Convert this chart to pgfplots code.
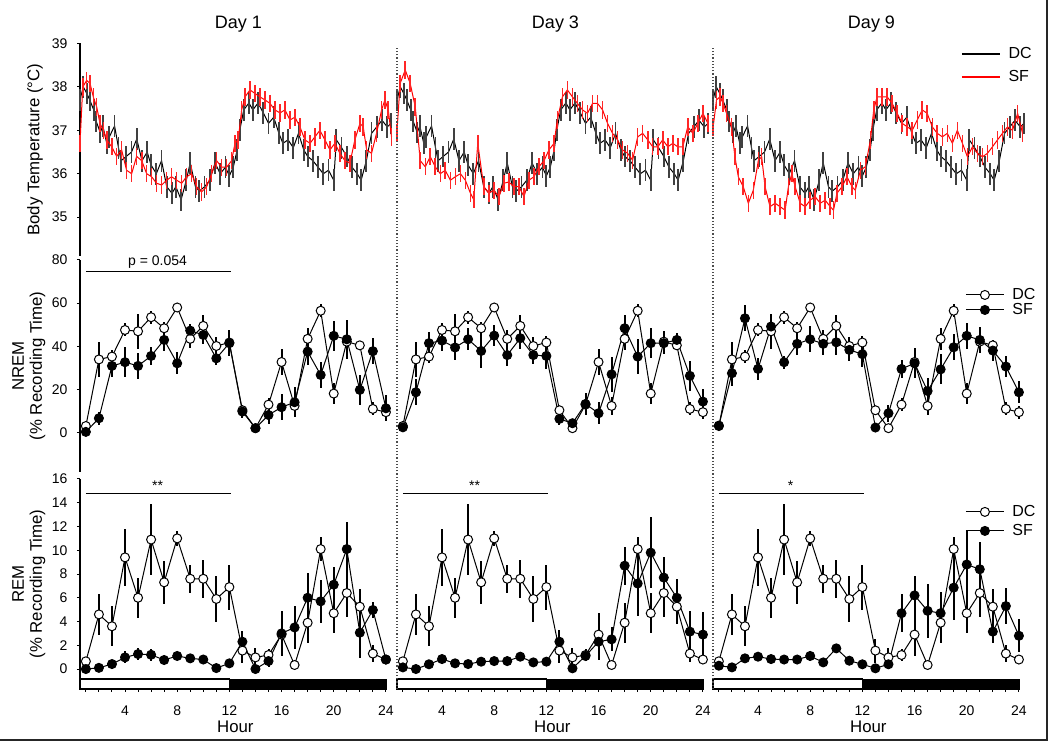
\documentclass[border=0pt]{standalone}
\usepackage{fontspec}
\setmainfont{Liberation Sans}
\usepackage{pgfplots}
\usepackage{pgfplotstable}
\pgfplotsset{compat=1.18}

\pgfplotstableread{
h t
0.55 37.70
0.80 38.00
1.07 37.85
1.30 37.70
1.60 37.47
1.80 37.20
2.10 36.95
2.30 37.10
2.60 36.70
2.80 36.85
3.20 37.10
3.50 36.60
3.70 36.30
4.10 36.40
4.50 36.50
4.90 36.80
5.30 36.30
5.70 36.50
6.00 36.20
6.40 36.00
6.80 36.30
7.20 35.70
7.60 35.55
7.90 35.70
8.30 35.40
8.70 35.85
9.00 36.25
9.40 35.70
9.70 35.60
10.10 35.70
10.50 35.85
10.90 36.25
11.30 36.00
11.70 36.15
12.00 35.95
12.30 36.15
12.60 36.55
12.80 37.00
13.10 37.47
13.50 37.63
13.80 37.47
14.20 37.63
14.60 37.40
15.00 37.16
15.40 37.30
15.80 36.93
16.10 36.70
16.50 36.78
16.90 36.60
17.30 36.93
17.70 36.55
18.00 36.40
18.40 36.30
18.80 36.15
19.20 36.00
19.60 36.08
20.00 35.85
20.20 36.78
20.60 36.60
21.00 36.40
21.40 36.15
21.80 36.00
22.10 35.85
22.50 36.30
22.90 36.93
23.30 37.08
23.70 37.23
24.10 37.08
24.40 37.16
}\tempdc

\pgfplotstableread{
h t
0.55 36.70
0.76 38.00
1.06 38.15
1.32 38.08
1.57 37.77
1.83 37.54
2.08 37.16
2.34 37.00
2.60 36.78
2.98 36.62
3.36 36.40
3.74 36.55
4.12 36.08
4.51 36.00
4.89 36.40
5.28 36.30
5.66 36.00
6.04 35.93
6.42 35.78
6.81 35.74
7.19 35.85
7.57 35.93
7.96 35.85
8.34 35.78
8.72 35.93
9.11 36.00
9.49 35.70
9.87 35.58
10.26 35.70
10.64 36.00
11.02 36.30
11.41 36.15
11.79 36.15
12.17 36.30
12.43 36.70
12.68 36.78
12.94 37.47
13.20 37.77
13.58 37.93
13.96 37.85
14.34 37.77
14.73 37.70
15.11 37.62
15.49 37.47
15.88 37.40
16.26 37.47
16.64 37.24
17.03 37.30
17.41 37.08
17.79 36.78
18.18 36.70
18.56 36.85
18.94 37.00
19.32 36.78
19.71 36.55
20.09 36.70
20.47 36.47
20.86 36.30
21.24 36.24
21.62 36.78
22.01 37.16
22.26 37.08
22.52 36.55
22.90 36.47
23.28 36.93
23.67 37.47
23.92 37.70
24.18 37.47
24.43 36.85
}\tempsfa

\pgfplotstableread{
h t
0.54 36.94
0.79 38.08
1.18 38.39
1.56 38.08
1.95 37.54
2.33 36.30
2.72 36.16
3.10 36.39
3.48 36.16
3.87 36.00
4.25 36.08
4.64 35.85
5.02 35.93
5.41 36.00
5.79 35.85
6.18 35.55
6.43 35.40
6.74 36.70
7.20 35.70
7.59 35.55
7.97 35.62
8.36 35.47
8.74 35.78
9.13 35.81
9.51 35.70
9.90 35.70
10.28 35.47
10.66 35.85
11.05 35.93
11.43 36.16
11.82 36.30
12.20 36.55
12.59 36.70
12.84 37.24
13.23 37.77
13.61 37.93
14.00 37.77
14.38 37.62
14.77 37.47
15.15 37.39
15.54 37.62
15.92 37.62
16.31 37.47
16.69 37.16
17.07 36.93
17.46 36.78
17.84 36.55
18.23 36.47
18.61 36.31
19.00 36.85
19.38 36.93
19.77 36.78
20.15 36.62
20.54 36.62
20.92 36.78
21.31 36.62
21.69 36.70
22.07 36.62
22.46 36.62
22.84 37.08
23.23 36.93
23.61 37.16
24.00 37.39
24.38 37.16
}\tempsfb

\pgfplotstableread{
h t
0.56 37.08
0.82 37.70
1.08 37.77
1.33 37.62
1.59 37.39
1.97 37.08
2.23 36.39
2.49 35.93
2.87 35.70
3.26 35.32
3.64 35.62
4.03 36.31
4.28 36.39
4.54 35.70
4.92 35.24
5.31 35.32
5.69 35.24
6.08 35.16
6.33 35.70
6.59 36.00
6.85 35.70
7.23 35.32
7.62 35.24
8.00 35.39
8.38 35.47
8.77 35.32
9.15 35.39
9.54 35.24
9.79 35.16
10.05 35.55
10.44 35.70
10.82 35.93
11.21 35.70
11.46 35.62
11.85 36.08
12.23 36.16
12.62 36.78
12.87 37.47
13.13 37.77
13.51 37.77
13.90 37.77
14.28 37.62
14.67 37.39
15.05 37.16
15.44 37.08
15.82 37.00
16.21 37.24
16.59 37.47
16.97 37.39
17.36 37.08
17.74 36.93
18.13 36.85
18.51 36.93
18.90 36.70
19.28 37.00
19.67 36.70
20.05 36.39
20.44 36.62
20.82 36.47
21.21 36.39
21.59 36.47
21.97 36.62
22.36 36.78
22.74 36.93
23.13 37.08
23.51 37.00
23.90 37.39
24.28 36.93
}\tempsfc

\pgfplotstableread{
h dc dce sfa sfae sfb sfbe sfc sfce
1 3.2 1 0.5 1 2.6 1 3.4 1
2 34 8 6.8 3 18.8 6 27.6 6
3 35.3 3 31 5 41.5 5 53 6
4 47.6 3 32.7 7 42.7 5 29.6 5
5 47 8 31 6 39.5 6 49.2 6
6 53.5 3 35.6 4 43.3 5 32.7 3
7 48.4 3 43 5 37.9 8 41.2 5
8 58 2 32.2 5 45 5 43.3 6
9 43.5 4 47.3 3 36 5 41.2 5
10 49.5 5 45.3 4 43.8 5 41.9 6
11 40.2 4 34.5 3 36 4 38.4 5
12 41.8 3 41.5 6 35.6 6 36.4 6
13 10.5 2 9.9 3 6.5 3 2.5 2
14 2.2 1 2.2 1 4.5 2 9.1 4
15 13.1 3 8.3 4 13.4 5 29.6 4
16 32.8 6 11.9 6 9.1 5 32.2 7
17 12.5 4 14.2 7 27.1 8 19.4 6
18 43.5 5 37.6 6 48.4 6 29.4 7
19 56.5 3 26.8 6 35.3 8 39.6 6
20 18.2 5 44.9 7 41.5 7 44.9 6
21 42.2 5 43.3 9 41.5 5 43 6
22 40.5 2 19.9 7 43 3 38.1 5
23 11.1 3 37.8 6 26.4 7 30.7 5
24 9.6 3 11.4 6 14.5 6 18.8 5
}\nrem

\pgfplotstableread{
h dc dce sfa sfae sfb sfbe sfc sfce
1 0.65 0.3 0.0 0.2 0.14 0.2 0.28 0.2
2 4.6 1.7 0.1 0.2 0.0 0.2 0.14 0.2
3 3.6 1.7 0.42 0.3 0.4 0.3 0.9 0.4
4 9.4 2.4 0.98 0.5 0.84 0.3 1.04 0.4
5 6.0 1.7 1.26 0.5 0.48 0.3 0.84 0.3
6 10.9 3.0 1.2 0.5 0.42 0.3 0.8 0.3
7 7.3 1.8 0.76 0.3 0.62 0.3 0.8 0.3
8 11.0 0.6 1.1 0.3 0.67 0.3 1.1 0.4
9 7.6 1.2 0.9 0.3 0.67 0.3 0.56 0.3
10 7.6 1.6 0.8 0.3 1.04 0.3 1.74 0.4
11 5.9 1.9 0.08 0.2 0.56 0.3 0.7 0.3
12 6.9 1.9 0.48 0.3 0.62 0.3 0.4 0.3
13 1.55 1.0 2.3 0.9 2.3 1.0 0.06 0.2
14 0.98 0.8 0.0 0.2 0.06 0.3 0.4 0.3
15 1.18 0.5 0.67 0.5 1.1 0.4 4.7 1.6
16 2.9 1.8 3.0 1.9 2.3 1.5 6.2 1.6
17 0.34 0.2 3.5 1.8 2.5 1.0 4.9 2.3
18 3.9 1.7 6.0 2.1 8.7 1.6 4.7 1.8
19 10.1 1.0 5.7 1.8 7.2 2.7 6.85 2.7
20 4.7 1.7 7.1 1.5 9.8 3.0 8.8 2.9
21 6.4 2.0 10.1 2.3 7.7 1.7 8.4 2.3
22 5.25 1.5 3.06 2.1 6.0 1.6 3.15 1.0
23 1.3 0.7 4.97 0.7 3.15 1.7 5.3 1.5
24 0.8 0.3 0.8 0.3 2.9 1.9 2.8 1.4
}\rem

\pgfplotsset{
 base/.style={scale only axis, width=158.5pt, xmin=0.55, xmax=24.85, anchor=south west, clip=false,
   tick align=outside, major tick length=1.5pt, minor tick length=1.5pt,
   tick style={black, line width=0.5pt},
   ticklabel style={font=\fontsize{7}{8}\selectfont},
   /pgf/number format/assume math mode=true,
   axis line style={line width=0.65pt},
   label style={font=\fontsize{8.4}{9}\selectfont},
   title style={at={(0.5,1)}, anchor=base, yshift=1.5pt, font=\fontsize{9}{10}\selectfont},
   yticklabel style={xshift=-1.2pt}},
 ycol1/.style={axis y line*=left},
 ycolk/.style={axis y line=none},
 trow/.style={height=106.35pt, ymin=34.1, ymax=39, ytick={35,36,37,38,39}, axis x line=none},
 nrow/.style={height=106pt, ymin=-18, ymax=80, ytick={0,20,40,60,80}, axis x line=none},
 rrow/.style={height=105pt, ymin=-1.68, ymax=16, ytick={0,2,...,16}, axis x line*=bottom,
   x axis line style={draw=none}, xtick={4,8,...,24}, minor xtick={1,...,24},
   xticklabel style={yshift=-3.2pt}, xlabel={Hour},
   xlabel style={at={(axis description cs:0.49,-0.181)}, anchor=center}},
 tdc/.style={black, line width=0.5pt, no marks, error bars/.cd, y dir=both, y fixed=0.25,
   error mark=none, error bar style={line width=0.9pt, black!75}},
 tsf/.style={red, line width=0.5pt, no marks, error bars/.cd, y dir=both, y fixed=0.2,
   error mark=none, error bar style={line width=0.8pt, red!85}},
 mdc/.style={black, line width=0.5pt, mark=*, mark size=2.25pt,
   mark options={fill=white, solid, line width=0.5pt}, error bars/.cd, y dir=both, y explicit,
   error mark=none, error bar style={line width=1pt}},
 msf/.style={black, line width=0.5pt, mark=*, mark size=2.25pt,
   mark options={fill=black, solid, line width=0.5pt}, error bars/.cd, y dir=both, y explicit,
   error mark=none, error bar style={line width=1pt}},
}

\begin{document}
\begin{tikzpicture}
\useasboundingbox (0,0) rectangle (525pt,371pt);

% ---------- Temperature row ----------
\begin{axis}[base, trow, ycol1, at={(40pt,242.9pt)}, title={Day 1},
  ylabel={Body Temperature (°C)}, ylabel style={at={(axis description cs:-0.142,0.5)}, anchor=center}]
\addplot[tdc] table[x=h,y=t] {\tempdc};
\addplot[tsf] table[x=h,y=t] {\tempsfa};
\end{axis}
\begin{axis}[base, trow, ycolk, at={(198.5pt,242.9pt)}, title={Day 3}]
\addplot[tdc] table[x=h,y=t] {\tempdc};
\addplot[tsf] table[x=h,y=t] {\tempsfb};
\end{axis}
\begin{axis}[base, trow, ycolk, at={(356.5pt,242.9pt)}, title={Day 9},
  legend style={at={(0.782,0.995)}, anchor=north west, draw=none, fill=none, inner sep=0pt,
    font=\fontsize{8}{9}\selectfont, row sep=2.5pt,
    nodes={inner sep=1pt, text height=6pt, text depth=1pt},
    /tikz/every odd column/.append style={column sep=3pt}},
  legend cell align=left,
  legend image code/.code={\draw[#1, line width=0.6pt] (0pt,0pt) -- (19pt,0pt);}]
\addplot[tdc] table[x=h,y=t] {\tempdc};
\addplot[tsf] table[x=h,y=t] {\tempsfc};
\legend{DC,SF}
\end{axis}

% ---------- NREM row ----------
\begin{axis}[base, nrow, ycol1, at={(40pt,135.05pt)},
  ylabel={NREM\\(\% Recording Time)}, ylabel style={at={(axis description cs:-0.161,0.5)}, anchor=center, align=center}]
\addplot[mdc] table[x=h,y=dc,y error=dce] {\nrem};
\addplot[msf] table[x=h,y=sfa,y error=sfae] {\nrem};
\draw[line width=0.5pt] (axis cs:1,74.5) -- (axis cs:12.1,74.5);
\node[font=\fontsize{7}{8}\selectfont, anchor=base] at (axis cs:6.5,77.2) {p = 0.054};
\end{axis}
\begin{axis}[base, nrow, ycolk, at={(198.5pt,135.05pt)}]
\addplot[mdc] table[x=h,y=dc,y error=dce] {\nrem};
\addplot[msf] table[x=h,y=sfb,y error=sfbe] {\nrem};
\end{axis}
\begin{axis}[base, nrow, ycolk, at={(356.5pt,135.05pt)},
  legend style={at={(0.795,0.879)}, anchor=north west, draw=none, fill=none, inner sep=0pt,
    font=\fontsize{8}{9}\selectfont, row sep=-1.5pt,
    nodes={inner sep=1pt, text height=6pt, text depth=1pt},
    /tikz/every odd column/.append style={column sep=3pt}},
  legend cell align=left,
  legend image code/.code={\draw[mark repeat=2,mark phase=2,#1] plot coordinates {(0pt,0pt) (9.5pt,0pt) (19pt,0pt)};}]
\addplot[mdc] table[x=h,y=dc,y error=dce] {\nrem};
\addplot[msf] table[x=h,y=sfc,y error=sfce] {\nrem};
\legend{DC,SF}
\end{axis}

% ---------- REM row ----------
\begin{axis}[base, rrow, ycol1, at={(40pt,26.5pt)},
  ylabel={REM\\(\% Recording Time)}, ylabel style={at={(axis description cs:-0.161,0.5)}, anchor=center, align=center}]
\draw[line width=0.65pt] (axis cs:0.55,-1.68) -- (axis cs:24.1,-1.68);
\draw[line width=0.6pt, fill=white] (axis cs:0.55,-1.68) rectangle (axis cs:12,-0.84);
\fill[black] (axis cs:12,-1.68) rectangle (axis cs:24.1,-0.84);
\addplot[mdc] table[x=h,y=dc,y error=dce] {\rem};
\addplot[msf] table[x=h,y=sfa,y error=sfae] {\rem};
\draw[line width=0.5pt] (axis cs:1,14.8) -- (axis cs:12.1,14.8);
\node[font=\fontsize{7}{8}\selectfont, anchor=base] at (axis cs:6.5,15.0) {**};
\end{axis}
\begin{axis}[base, rrow, ycolk, at={(198.5pt,26.5pt)}]
\draw[line width=0.65pt] (axis cs:0.55,-1.68) -- (axis cs:24.1,-1.68);
\draw[line width=0.6pt, fill=white] (axis cs:0.55,-1.68) rectangle (axis cs:12,-0.84);
\fill[black] (axis cs:12,-1.68) rectangle (axis cs:24.1,-0.84);
\addplot[mdc] table[x=h,y=dc,y error=dce] {\rem};
\addplot[msf] table[x=h,y=sfb,y error=sfbe] {\rem};
\draw[line width=0.5pt] (axis cs:1,14.8) -- (axis cs:12.1,14.8);
\node[font=\fontsize{7}{8}\selectfont, anchor=base] at (axis cs:6.5,15.0) {**};
\end{axis}
\begin{axis}[base, rrow, ycolk, at={(356.5pt,26.5pt)},
  legend style={at={(0.795,0.888)}, anchor=north west, draw=none, fill=none, inner sep=0pt,
    font=\fontsize{8}{9}\selectfont, row sep=0.5pt,
    nodes={inner sep=1pt, text height=6pt, text depth=1pt},
    /tikz/every odd column/.append style={column sep=3pt}},
  legend cell align=left,
  legend image code/.code={\draw[mark repeat=2,mark phase=2,#1] plot coordinates {(0pt,0pt) (9.5pt,0pt) (19pt,0pt)};}]
\draw[line width=0.65pt] (axis cs:0.55,-1.68) -- (axis cs:24.1,-1.68);
\draw[line width=0.6pt, fill=white] (axis cs:0.55,-1.68) rectangle (axis cs:12,-0.84);
\fill[black] (axis cs:12,-1.68) rectangle (axis cs:24.1,-0.84);
\addplot[mdc] table[x=h,y=dc,y error=dce] {\rem};
\addplot[msf] table[x=h,y=sfc,y error=sfce] {\rem};
\draw[line width=0.5pt] (axis cs:1,14.8) -- (axis cs:12.1,14.8);
\node[font=\fontsize{7}{8}\selectfont, anchor=base] at (axis cs:6.5,15.0) {*};
\legend{DC,SF}
\end{axis}

% column separators and frame
\draw[densely dotted, line width=0.6pt, black!70] (198.5pt,26.5pt) -- (198.5pt,348pt);
\draw[densely dotted, line width=0.6pt, black!70] (356.5pt,26.5pt) -- (356.5pt,348pt);
\draw[line width=1pt, black!85] (0pt,1.2pt) -- (523.6pt,1.2pt) -- (523.6pt,371pt);
\end{tikzpicture}
\end{document}
